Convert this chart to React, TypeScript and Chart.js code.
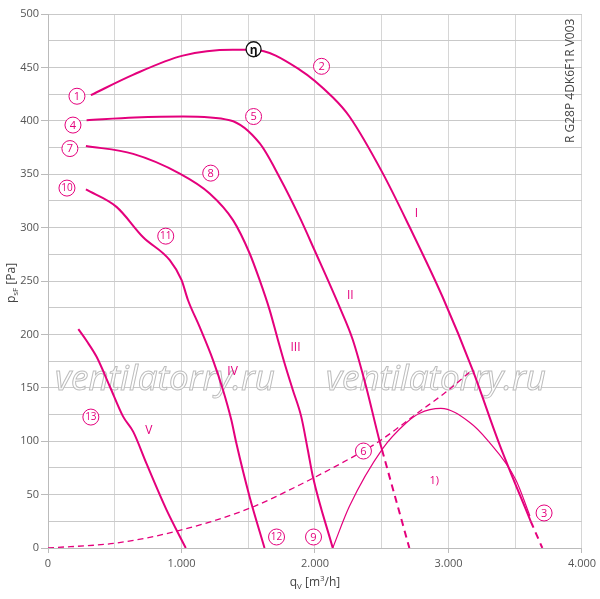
import React, { useEffect, useRef } from 'react';
import { Chart, registerables } from 'chart.js';
Chart.register(...registerables);

const MAGENTA = '#e4007c';

// Curves (q_V [m³/h], p_sF [Pa])
const curveI = [[321,424],[636,443],[1010,461],[1383,466.5],[1538,466.5],[1884,448],[2133,422],[2258,404],[2507,351],[2707,301],[2956,235],[3180,167],[3379,98],[3616,25]];
const curveIExt = [[3616,25],[3703,0]];
const curveII = [[289,400.5],[650,403],[1012,404],[1361,400.5],[1585,379],[1735,347],[1884,310],[1996,279],[2183,226],[2283,195],[2383,151],[2482,101],[2502,92]];
const curveIIExt = [[2502,92],[2707,0]];
const curveIII = [[284,376.5],[638,369],[987,350.6],[1211,332],[1386,307],[1510,276],[1585,251],[1660,223],[1722,195],[1772,173],[1834,148],[1897,123],[1946,92],[1984,67],[2133,0]];
const curveIV = [[284,335.7],[513,319.4],[713,291],[912,269.5],[1000,251],[1049,232],[1136,207],[1236,176],[1311,148],[1373,120],[1411,98],[1510,48],[1622,0]];
const curveV = [[227,205],[289,194],[364,179],[464,151],[563,123],[638,109],[738,79],[887,36],[1032,0]];
const curveOne = [[2133,0],[2258,39],[2507,93],[2682,117],[2781,126],[2943,130.7],[3155,118],[3292,101],[3504,64],[3610,30]];
const systemCurve = [[0,0],[513,4.7],[987,16.5],[1510,37.2],[1884,59],[2308,87],[2482,100],[2781,127.6],[2981,146],[3180,167]];

// Labels
const circleTexts = ['1','2','3','4','5','6','7','8','9','10','11','12','13'];
const circleX = [217,2049,3716,187,1540,2363,164,1219,1989,142,882,1712,321];
const circleY = [423,451,32.8,396,404,90.8,374,351,10.3,337,292,10.3,122.6];
const etaPos = [1540,467];
const romanTexts = ['I','II','III','IV','V','1)'];
const romanX = [2759,2265,1854,1383,755,2893];
const romanY = [313.5,236,188,165.6,110.4,62.7];

const xTickStep = 500;
const yTickStep = 25;

const toXY = (arr: number[][]) => arr.map(([x, y]) => ({ x, y }));

export default function App() {
  const ref = useRef<HTMLCanvasElement | null>(null);
  useEffect(() => {
    if (!ref.current) return;
    const font = '"Open Sans", "DejaVu Sans", sans-serif';
    const annot = {
      id: 'annot',
      beforeDatasetsDraw(chart: any) {
        const ctx = chart.ctx as CanvasRenderingContext2D;
        const b = chart.chartArea;
        ctx.save();
        ctx.font = `italic 32px ${font}`;
        const w = ctx.measureText('ventilatorry.ru').width;
        const fs = 32 * 220 / w;
        ctx.font = `italic ${fs}px ${font}`;
        ctx.textAlign = 'left';
        ctx.textBaseline = 'alphabetic';
        ctx.lineWidth = 1;
        ctx.strokeStyle = '#bdbdbd';
        ctx.fillStyle = 'rgba(255,255,255,0.75)';
        const by = b.bottom - 158;
        for (const x0 of [b.left + 7, b.left + 278]) {
          ctx.fillText('ventilatorry.ru', x0, by);
          ctx.strokeText('ventilatorry.ru', x0, by);
        }
        ctx.restore();
      },
      afterDatasetsDraw(chart: any) {
        const ctx = chart.ctx as CanvasRenderingContext2D;
        const xs = chart.scales.x, ys = chart.scales.y;
        ctx.save();
        ctx.textAlign = 'center';
        ctx.textBaseline = 'middle';
        // circled labels
        for (let i = 0; i < circleTexts.length; i++) {
          const px = xs.getPixelForValue(circleX[i]);
          const py = ys.getPixelForValue(circleY[i]);
          ctx.beginPath();
          ctx.arc(px, py, 8, 0, Math.PI * 2);
          ctx.fillStyle = '#fff';
          ctx.fill();
          ctx.lineWidth = 1;
          ctx.strokeStyle = MAGENTA;
          ctx.stroke();
          ctx.fillStyle = MAGENTA;
          ctx.font = `${circleTexts[i].length > 1 ? 10 : 11}px ${font}`;
          ctx.fillText(circleTexts[i], px, py + 0.5);
        }
        // eta
        {
          const px = xs.getPixelForValue(etaPos[0]);
          const py = ys.getPixelForValue(etaPos[1]);
          ctx.beginPath();
          ctx.arc(px, py, 7.5, 0, Math.PI * 2);
          ctx.fillStyle = '#fff';
          ctx.fill();
          ctx.lineWidth = 1.3;
          ctx.strokeStyle = '#111';
          ctx.stroke();
          ctx.fillStyle = '#111';
          ctx.font = `bold 12px ${font}`;
          ctx.fillText('η', px, py + 1);
        }
        // roman labels
        for (let i = 0; i < romanTexts.length; i++) {
          ctx.fillStyle = MAGENTA;
          ctx.font = `${romanTexts[i] === '1)' ? 11 : 12}px ${font}`;
          ctx.fillText(romanTexts[i], xs.getPixelForValue(romanX[i]), ys.getPixelForValue(romanY[i]));
        }
        ctx.restore();

        // vertical code text
        ctx.save();
        const b = chart.chartArea;
        ctx.translate(b.right - 11, b.top + 70);
        ctx.rotate(-Math.PI / 2);
        ctx.fillStyle = '#444';
        ctx.font = `12px ${font}`;
        const code = 'R G28P 4DK6F1R V003';
        const cw = ctx.measureText(code).width;
        const ls = Math.max(0, (118 - cw) / (code.length - 1));
        (ctx as any).letterSpacing = `${ls}px`;
        ctx.textAlign = 'left';
        ctx.textBaseline = 'middle';
        ctx.fillText(code, -59, 0);
        ctx.restore();

        // axis titles
        const drawParts = (parts: [string, number, number][], cx: number, cy: number, rot: number) => {
          ctx.save();
          ctx.translate(cx, cy);
          ctx.rotate(rot);
          ctx.fillStyle = '#444';
          ctx.textAlign = 'left';
          ctx.textBaseline = 'alphabetic';
          let total = 0;
          for (const [t, s] of parts) { ctx.font = `${s}px ${font}`; total += ctx.measureText(t).width; }
          let x = -total / 2;
          for (const [t, s, dy] of parts) {
            ctx.font = `${s}px ${font}`;
            ctx.fillText(t, x, 4 + dy);
            x += ctx.measureText(t).width;
          }
          ctx.restore();
        };
        drawParts([['p', 12, 0], ['sF', 8, 3], [' [Pa]', 12, 0]], 11, 283, -Math.PI / 2);
        drawParts([['q', 12, 0], ['V', 8, 3], [' [m', 12, 0], ['3', 8, -5], ['/h]', 12, 0]], 315, 582, 0);
      },
    };

    const solid = (data: number[][], width = 2) => ({
      data: toXY(data), showLine: true, borderColor: MAGENTA, borderWidth: width,
      pointRadius: 0, cubicInterpolationMode: 'monotone' as const, fill: false,
    });
    const dashed = (data: number[][], width = 2, dash = [7, 5]) => ({
      data: toXY(data), showLine: true, borderColor: MAGENTA, borderWidth: width,
      pointRadius: 0, cubicInterpolationMode: 'monotone' as const, borderDash: dash, fill: false,
    });

    const chart = new Chart(ref.current, {
      type: 'scatter',
      data: {
        datasets: [
          dashed(systemCurve, 1.3, [6, 4]),
          solid(curveOne, 1.2),
          solid(curveI), dashed(curveIExt),
          solid(curveII), dashed(curveIIExt),
          solid(curveIII), solid(curveIV), solid(curveV),
        ] as any,
      },
      options: {
        animation: false,
        responsive: true,
        maintainAspectRatio: false,
        layout: { padding: { top: 14, right: 17, left: 0, bottom: 0 } },
        plugins: { legend: { display: false }, tooltip: { enabled: false } },
        scales: {
          x: {
            type: 'linear', min: 0, max: 4000,
            afterFit: (s: any) => { s.height = 51; },
            ticks: {
              stepSize: xTickStep, autoSkip: false, maxRotation: 0, color: '#555', padding: 4,
              font: { family: font, size: 11 },
              callback: (v: any) => (v % 1000 === 0 ? (v === 0 ? '0' : `${v / 1000}.000`) : ''),
            },
            grid: {
              color: '#d6d6d6', lineWidth: 1, tickLength: 5,
              tickColor: (c: any) => (c.tick && c.tick.value % 1000 === 0 ? '#bbb' : 'rgba(0,0,0,0)'),
            },
            border: { color: '#bbb' },
          },
          y: {
            type: 'linear', min: 0, max: 500,
            afterFit: (s: any) => { s.width = 48; },
            ticks: {
              stepSize: yTickStep, autoSkip: false, color: '#555', padding: 2,
              font: { family: font, size: 11 },
              callback: (v: any) => (v % 50 === 0 ? `${v}` : ''),
            },
            grid: {
              color: '#c9c9c9', lineWidth: 1, tickLength: 7,
              tickColor: (c: any) => (c.tick && c.tick.value % 50 === 0 ? '#bbb' : 'rgba(0,0,0,0)'),
            },
            border: { color: '#bbb' },
          },
        },
      } as any,
      plugins: [annot],
    });
    return () => chart.destroy();
  }, []);

  return (
    <div style={{ position: 'fixed', left: 0, top: 0, width: 600, height: 599, background: '#fff' }}>
      <canvas ref={ref} style={{ display: 'block' }} />
    </div>
  );
}
